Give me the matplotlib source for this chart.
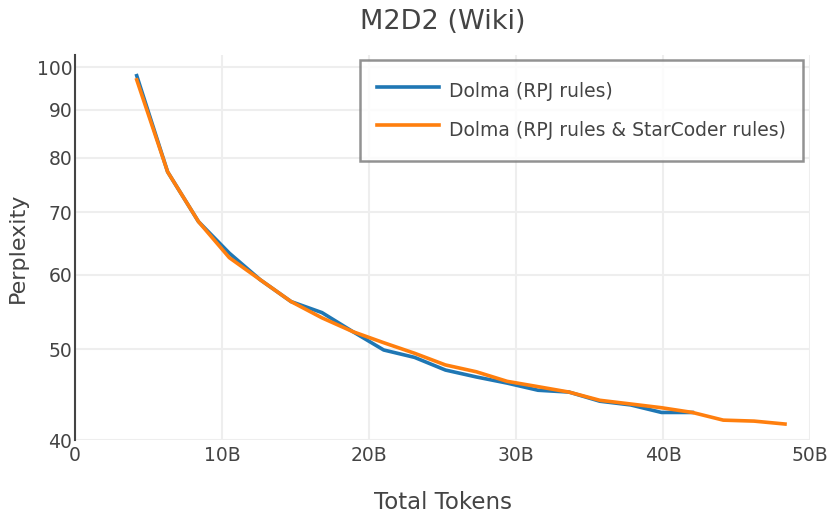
import matplotlib.pyplot as plt
from matplotlib.ticker import FixedLocator, NullLocator

# tokens (billions)
tokens = [4.2, 6.3, 8.4, 10.5, 12.6, 14.7, 16.8, 18.9, 21.0, 23.1, 25.2,
          27.3, 29.4, 31.5, 33.6, 35.7, 37.8, 39.9, 42.0, 44.1, 46.2, 48.3]

ppl_rpj = [97.9, 77.3, 68.4, 63.3, 59.3, 56.2, 54.7, 52.2, 49.9, 49.0, 47.5,
           46.7, 46.0, 45.2, 45.0, 44.0, 43.6, 42.8, 42.8]
ppl_rpj_sc = [96.9, 77.3, 68.4, 62.6, 59.3, 56.2, 54.0, 52.2, 50.8, 49.5, 48.1,
              47.3, 46.2, 45.6, 45.0, 44.1, 43.7, 43.3, 42.8, 42.0, 41.9, 41.6]

xticks = [0, 10, 20, 30, 40, 50]
xtick_labels = ['0', '10B', '20B', '30B', '40B', '50B']
yticks = [40, 50, 60, 70, 80, 90, 100]

txt = '#444444'

fig = plt.figure(figsize=(8.3, 5.2), dpi=100)
ax = fig.add_axes([75 / 830, 1 - 440 / 520, 735 / 830, 385 / 520])

ax.plot(tokens[:len(ppl_rpj)], ppl_rpj, color='#1f77b4', lw=2.6,
        label='Dolma (RPJ rules)', zorder=3)
ax.plot(tokens[:len(ppl_rpj_sc)], ppl_rpj_sc, color='#ff7f0e', lw=2.6,
        label='Dolma (RPJ rules & StarCoder rules)', zorder=4)

ax.set_yscale('log')
ax.set_xlim(0, 50)
ax.set_ylim(40, 103)
ax.xaxis.set_major_locator(FixedLocator(xticks))
ax.set_xticklabels(xtick_labels)
ax.yaxis.set_major_locator(FixedLocator(yticks))
ax.yaxis.set_minor_locator(NullLocator())
ax.set_yticklabels([str(v) for v in yticks])

ax.grid(True, color='#eeeeee', lw=1.5)
ax.set_axisbelow(True)
for s in ['top', 'right', 'bottom']:
    ax.spines[s].set_visible(False)
ax.spines['left'].set_color('#444444')
ax.spines['left'].set_linewidth(1.5)
ax.tick_params(axis='both', length=0, labelsize=13.5, colors=txt)
ax.tick_params(axis='y', pad=2)
ax.tick_params(axis='x', pad=4)

ax.set_title('M2D2 (Wiki)', fontsize=19.5, color=txt, pad=19)
ax.set_xlabel('Total Tokens', fontsize=16.5, color=txt, labelpad=19)
ax.set_ylabel('Perplexity', fontsize=16, color=txt, labelpad=6)

leg = ax.legend(loc='upper right', bbox_to_anchor=(0.99, 0.987), fontsize=13.5,
                frameon=True, fancybox=False, handlelength=3.3,
                handleheight=2.0, handletextpad=0.55,
                borderpad=0.9, labelspacing=0.5, labelcolor=txt,
                borderaxespad=0)
leg.get_frame().set_edgecolor('#777777')
leg.get_frame().set_linewidth(1.8)

fig.savefig('out.png', dpi=100)
